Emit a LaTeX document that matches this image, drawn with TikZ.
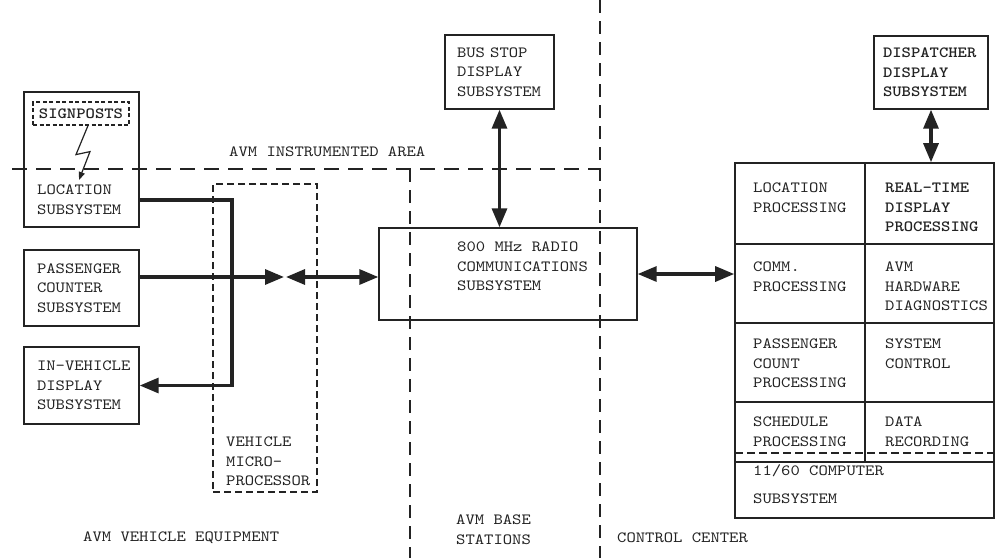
\documentclass[tikz,border=0pt]{standalone}
\usepackage{fontspec}
\usetikzlibrary{arrows.meta}
\newfontfamily\typew[Extension=.otf, UprightFont=lmmono10-regular, BoldFont=lmmonolt10-bold, FakeStretch=1.14]{lmmono10-regular}
\newcommand\twf{\typew\fontsize{15.6pt}{19.5pt}\selectfont\exhyphenpenalty=10000\hyphenpenalty=10000}
\definecolor{ink}{RGB}{35,35,35}
\tikzset{
  box/.style={draw=ink, line width=1.4pt, text=ink, font=\twf, align=left, inner ysep=0pt},
  txt/.style={text=ink, font=\twf, align=left, inner sep=0pt},
  thickl/.style={draw=ink, line width=3.2pt},
  tip/.tip={Triangle[length=19pt,width=15pt]},
  areadash/.style={draw=ink, line width=1.2pt, dash pattern=on 15pt off 9pt},
  vdash/.style={draw=ink, line width=1.2pt, dash pattern=on 7pt off 4pt},
  sdash/.style={draw=ink, line width=1.2pt, dash pattern=on 4pt off 2.5pt},
}
\begin{document}
\begin{tikzpicture}[x=1pt,y=-1pt]
\useasboundingbox (0,0) rectangle (997,558);
\fill[white] (0,0) rectangle (997,558);

% region boundaries
\draw[areadash] (12,169) -- (600,169);
\draw[areadash, dash pattern=on 13pt off 8pt] (410,169) -- (410,558);
\draw[areadash, dash pattern=on 13pt off 8pt] (600,0) -- (600,558);
\node[txt, anchor=west] (arealabel) at (229,152) {AVM INSTRUMENTED AREA};

% location subsystem with signposts
\node[box, minimum width=115pt, minimum height=135pt] (location) at (81.5,159.5) {};
\node[txt, anchor=north west] (loctext) at (37,184.8) {LOCATION\\SUBSYSTEM};
\node[draw=ink, sdash, text=ink, font=\twf\bfseries, inner sep=0pt, minimum width=96pt, minimum height=23pt] (signposts) at (81,113.5) {SIGNPOSTS};
\coordinate (bolttip) at (79,180);
\draw[draw=ink, line width=1.2pt, -{Triangle[length=8pt,width=6pt]}] (signposts.south) ++(7,0) -- ++(-12,29) -- ++(14,-3) -- (bolttip);

% other vehicle boxes
\node[box, text width=89pt, inner xsep=13pt, minimum height=76pt] (passenger) at (81.5,288) {PASSENGER\\COUNTER\\SUBSYSTEM};
\node[box, text width=89pt, inner xsep=13pt, minimum height=77pt] (invehicle) at (81.5,385.5) {IN-VEHICLE\\DISPLAY\\SUBSYSTEM};

% vehicle microprocessor
\node[vdash, minimum width=104pt, minimum height=308pt, inner sep=0pt] (vmp) at (265,338) {};
\node[txt, anchor=north west] (vmptext) at (226,436.8) {VEHICLE\\MICRO-\\PROCESSOR};

% radio and bus stop
\node[box, minimum width=258pt, minimum height=92pt] (radio) at (508,274) {};
\node[txt, anchor=north west] (radiotext) at (457,241.8) {800 MHz RADIO\\COMMUNICATIONS\\SUBSYSTEM};
\node[box, text width=85pt, inner xsep=12pt, minimum height=74pt] (busstop) at (499.5,72) {BUS STOP\\DISPLAY\\SUBSYSTEM};

% dispatcher and computer
\node[box, font=\twf\bfseries, text width=96pt, inner xsep=9pt, minimum height=73pt] (dispatcher) at (931,72.5) {DISPATCHER\\DISPLAY\\SUBSYSTEM};
\node[box, line width=1.6pt, minimum width=259pt, minimum height=355pt] (grid) at (864.5,340.5) {};
\draw[draw=ink, line width=1.6pt] (735,244) -- (994,244) (735,323) -- (994,323) (735,402) -- (994,402) (735,462) -- (994,462) (865,163) -- (865,462);
\draw[draw=ink, line width=1.4pt, dash pattern=on 8pt off 4pt] (735,453) -- (994,453);
\node[txt, anchor=north west] (c11) at (753,182.9) {LOCATION\\PROCESSING};
\node[txt, anchor=north west, font=\twf\bfseries] (c12) at (885,182.9) {REAL-TIME\\DISPLAY\\PROCESSING};
\node[txt, anchor=north west] (c21) at (753,261.9) {COMM.\\PROCESSING};
\node[txt, anchor=north west] (c22) at (885,261.9) {AVM\\HARDWARE\\DIAGNOSTICS};
\node[txt, anchor=north west] (c31) at (753,338.9) {PASSENGER\\COUNT\\PROCESSING};
\node[txt, anchor=north west] (c32) at (885,338.9) {SYSTEM\\CONTROL};
\node[txt, anchor=north west] (c41) at (753,416.9) {SCHEDULE\\PROCESSING};
\node[txt, anchor=north west] (c42) at (885,416.9) {DATA\\RECORDING};
\node[txt, anchor=north west] (c5) at (753,464.5) {11/60 COMPUTER\\[8pt]SUBSYSTEM};

% bottom labels
\node[txt, anchor=west] (lveh) at (83,538) {AVM VEHICLE EQUIPMENT};
\node[txt, anchor=north west] (lbase) at (456,514.8) {AVM BASE\\STATIONS};
\node[txt, anchor=west] (lcc) at (617,538) {CONTROL CENTER};

% connectors
\coordinate (j1) at (232,200);
\coordinate (m1) at (284,277);
\coordinate (m2) at (286,277);
\draw[thickl, -{tip}] (location.east |- j1) -- (j1) |- (invehicle.east);
\draw[thickl, -{tip}] (passenger.east |- m1) -- (m1);
\draw[thickl, {tip}-{tip}] (m2) -- (m2 -| radio.west);
\draw[thickl, {tip}-{tip}] (busstop.south) -- (busstop.south |- radio.north);
\draw[thickl, {tip}-{tip}] (radio.east) -- (radio.east -| grid.west);
\draw[thickl, {tip}-{tip}] (dispatcher.south) -- (dispatcher.south |- grid.north);
\end{tikzpicture}
\end{document}
